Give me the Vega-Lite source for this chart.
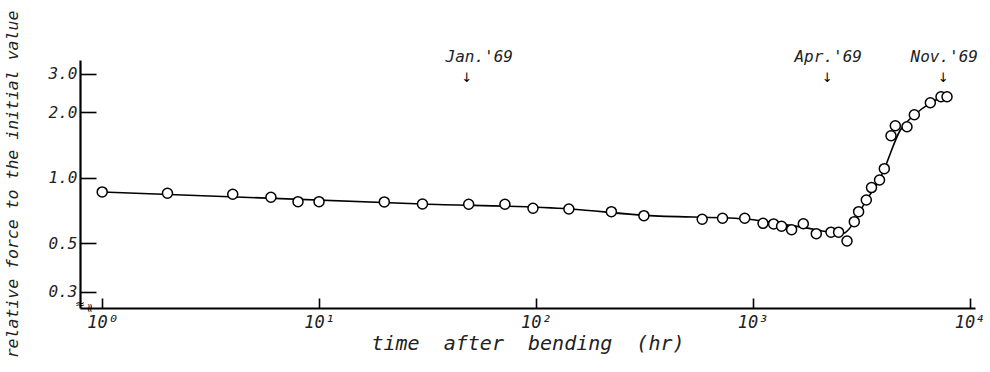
{
  "$schema": "https://vega.github.io/schema/vega-lite/v6.json",
  "autosize": {"type": "none"},
  "padding": {"left": 80, "top": 60, "right": 15, "bottom": 64},
  "width": 895,
  "height": 248,
  "background": "white",
  "config": {"view": {"stroke": null}, "font": "DejaVu Sans Mono"},
  "datasets": {
    "points": [
      {"t": 1, "f": 0.86}, {"t": 2, "f": 0.848}, {"t": 4, "f": 0.839}, {"t": 6, "f": 0.813},
      {"t": 8, "f": 0.776}, {"t": 10, "f": 0.776}, {"t": 20, "f": 0.774}, {"t": 30, "f": 0.757},
      {"t": 49, "f": 0.755}, {"t": 72, "f": 0.755}, {"t": 97, "f": 0.724}, {"t": 142, "f": 0.718},
      {"t": 223, "f": 0.698}, {"t": 315, "f": 0.669}, {"t": 585, "f": 0.644}, {"t": 726, "f": 0.651},
      {"t": 919, "f": 0.651}, {"t": 1116, "f": 0.617}, {"t": 1249, "f": 0.613}, {"t": 1359, "f": 0.598},
      {"t": 1512, "f": 0.577}, {"t": 1712, "f": 0.614}, {"t": 1965, "f": 0.553}, {"t": 2297, "f": 0.562},
      {"t": 2490, "f": 0.562}, {"t": 2723, "f": 0.512}, {"t": 2942, "f": 0.628}, {"t": 3080, "f": 0.698},
      {"t": 3342, "f": 0.79}, {"t": 3532, "f": 0.9}, {"t": 3846, "f": 0.976}, {"t": 4046, "f": 1.1},
      {"t": 4345, "f": 1.558}, {"t": 4548, "f": 1.732}, {"t": 5148, "f": 1.714}, {"t": 5565, "f": 1.945},
      {"t": 6596, "f": 2.208}, {"t": 7387, "f": 2.353}, {"t": 7876, "f": 2.353}
    ],
    "curve": [
      {"t": 1, "f": 0.86}, {"t": 30, "f": 0.757}, {"t": 144, "f": 0.718}, {"t": 320, "f": 0.671},
      {"t": 920, "f": 0.646}, {"t": 1658, "f": 0.594}, {"t": 2618, "f": 0.555}, {"t": 2942, "f": 0.626},
      {"t": 3342, "f": 0.79}, {"t": 3846, "f": 0.976}, {"t": 4046, "f": 1.096}, {"t": 4796, "f": 1.655},
      {"t": 5565, "f": 1.94}, {"t": 6596, "f": 2.2}, {"t": 7420, "f": 2.34}
    ],
    "notes": [
      {"t": 48, "tl": 54.8, "label": "Jan.'69"},
      {"t": 2208, "tl": 2230, "label": "Apr.'69"},
      {"t": 7570, "tl": 7650, "label": "Nov.'69"}
    ]
  },
  "layer": [
    {
      "data": {"name": "curve"},
      "mark": {"type": "line", "color": "black", "strokeWidth": 1.6, "interpolate": "monotone"},
      "encoding": {
        "x": {
          "field": "t", "type": "quantitative",
          "scale": {"type": "log", "domain": [0.79, 10600], "nice": false},
          "axis": {
            "title": "time\u00a0 after\u00a0 bending\u00a0 (hr)",
            "values": [1, 10, 100, 1000, 10000],
            "labelExpr": "datum.value == 1 ? '10⁰' : datum.value == 10 ? '10¹' : datum.value == 100 ? '10²' : datum.value == 1000 ? '10³' : '10⁴'",
            "grid": false,
            "domainColor": "black", "domainWidth": 2.2,
            "tickColor": "black", "tickWidth": 1.6, "tickSize": -10,
            "labelFont": "DejaVu Sans Mono", "labelFontStyle": "italic", "labelFontSize": 17, "labelColor": "#222",
            "labelPadding": 16,
            "titleFont": "DejaVu Sans Mono", "titleFontStyle": "italic", "titleFontWeight": "normal", "titleFontSize": 20, "titleColor": "#222",
            "titlePadding": 3
          }
        },
        "y": {
          "field": "f", "type": "quantitative",
          "scale": {"type": "log", "domain": [0.252, 3.47], "nice": false},
          "axis": {
            "title": "relative force to the initial value",
            "values": [0.3, 0.5, 1, 2, 3],
            "format": ".1f",
            "grid": false,
            "domainColor": "black", "domainWidth": 2.2,
            "tickColor": "black", "tickWidth": 1.6, "tickSize": -16,
            "labelFont": "DejaVu Sans Mono", "labelFontStyle": "italic", "labelFontSize": 16, "labelColor": "#222",
            "labelPadding": 19,
            "titleFont": "DejaVu Sans Mono", "titleFontStyle": "italic", "titleFontWeight": "normal", "titleFontSize": 16.5, "titleColor": "#222",
            "titleX": -60
          }
        }
      }
    },
    {
      "data": {"name": "points"},
      "mark": {"type": "point", "shape": "circle", "filled": false, "fill": "white", "fillOpacity": 1, "stroke": "black", "strokeWidth": 1.5, "size": 100},
      "encoding": {
        "x": {"field": "t", "type": "quantitative"},
        "y": {"field": "f", "type": "quantitative"}
      }
    },
    {
      "data": {"name": "notes"},
      "mark": {"type": "text", "font": "DejaVu Sans Mono", "fontStyle": "italic", "fontSize": 16, "color": "#222", "baseline": "middle"},
      "encoding": {
        "x": {"field": "tl", "type": "quantitative"},
        "y": {"datum": 3.6, "type": "quantitative"},
        "text": {"field": "label"}
      }
    },
    {
      "data": {"name": "notes"},
      "mark": {"type": "text", "font": "DejaVu Sans", "fontSize": 13, "color": "black", "baseline": "middle", "text": "↓"},
      "encoding": {
        "x": {"field": "t", "type": "quantitative"},
        "y": {"datum": 2.87, "type": "quantitative"}
      }
    },
    {
      "data": {"values": [{"axis": "y"}]},
      "mark": {"type": "text", "font": "DejaVu Sans", "fontSize": 12, "color": "black", "baseline": "middle", "text": "≈"},
      "encoding": {
        "x": {"datum": 0.79, "type": "quantitative"},
        "y": {"datum": 0.263, "type": "quantitative"}
      }
    },
    {
      "data": {"values": [{"axis": "x"}]},
      "mark": {"type": "text", "font": "DejaVu Sans", "fontSize": 12, "color": "black", "baseline": "middle", "angle": 90, "text": "≈"},
      "encoding": {
        "x": {"datum": 0.88, "type": "quantitative"},
        "y": {"datum": 0.252, "type": "quantitative"}
      }
    }
  ]
}
